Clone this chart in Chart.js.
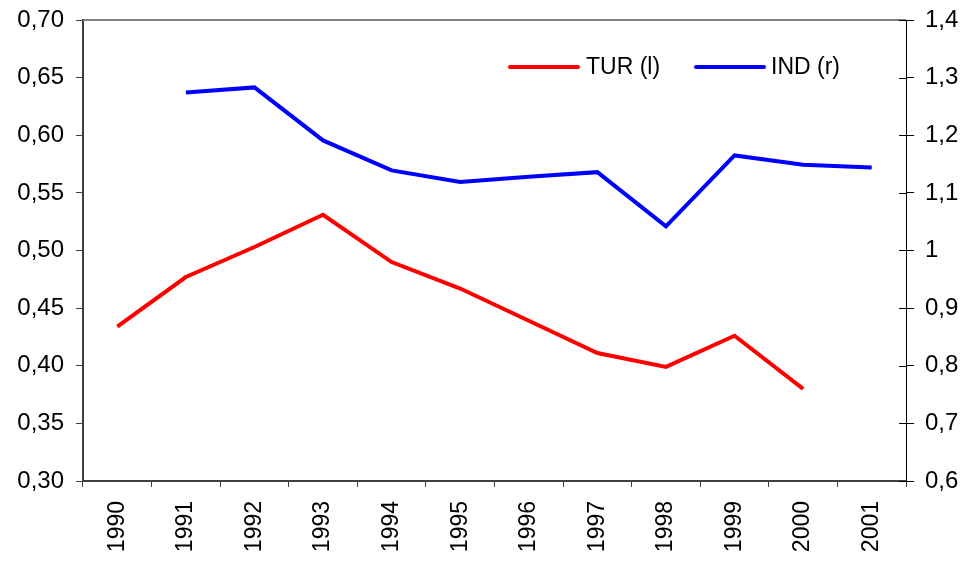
<!DOCTYPE html>
<html>
<head>
<meta charset="utf-8">
<script src="https://cdn.jsdelivr.net/npm/chart.js@4"></script>
<style>
  html, body { margin: 0; padding: 0; background: #fff; }
  #wrap { width: 969px; height: 566px; }
</style>
</head>
<body>
<div id="wrap"><canvas id="myChart" width="969" height="566"></canvas></div>
<script>
var years = ['1990', '1991', '1992', '1993', '1994', '1995', '1996', '1997', '1998', '1999', '2000', '2001'];
var turValues = [0.434, 0.477, 0.503, 0.531, 0.490, 0.467, 0.439, 0.411, 0.399, 0.426, 0.380, null];
var indValues = [null, 1.274, 1.283, 1.191, 1.139, 1.119, 1.128, 1.136, 1.042, 1.165, 1.149, 1.144];
var seriesNames = ['TUR (l)', 'IND (r)'];
var seriesColors = ['#ff0000', '#0000ff'];

var FONT = '"Liberation Sans", Arial, sans-serif';

// top border, inward half of right ticks, and legend inside the plot
var framePlugin = {
    id: 'frame',
    afterDraw: function (chart) {
        var c = chart.ctx, a = chart.chartArea;
        c.save();
        c.strokeStyle = '#808080';
        c.lineWidth = 2;
        c.beginPath();
        c.moveTo(a.left, a.top);
        c.lineTo(a.right, a.top);
        c.stroke();

        var y2 = chart.scales.y2;
        c.strokeStyle = '#000';
        c.lineWidth = 1;
        y2.ticks.forEach(function (t) {
            var py = Math.round(y2.getPixelForValue(t.value)) + 0.5;
            c.beginPath();
            c.moveTo(a.right - 7, py);
            c.lineTo(a.right, py);
            c.stroke();
        });

        // legend
        var lx = [510, 696], tx = [586, 771], ly = 67;
        c.font = '23px ' + FONT;
        c.textBaseline = 'middle';
        c.fillStyle = '#000';
        chart.data.datasets.forEach(function (ds, i) {
            c.strokeStyle = ds.borderColor;
            c.lineWidth = 4;
            c.lineCap = 'round';
            c.beginPath();
            c.moveTo(lx[i], ly);
            c.lineTo(lx[i] + 68, ly);
            c.stroke();
            c.fillText(ds.label, tx[i], ly + 1);
        });
        c.restore();
    }
};

function fmtComma(v, d) {
    var s = d ? v.toFixed(d) : String(Math.round(v * 10) / 10);
    return s.replace('.', ',');
}

function fitY(w) {
    return function (s) {
        s.width = w;
        s.paddingTop = 0;
        s.paddingBottom = 0;
    };
}

var ctx = document.getElementById('myChart').getContext('2d');
var myChart = new Chart(ctx, {
    type: 'line',
    data: {
        labels: years,
        datasets: [{
            label: seriesNames[0],
            data: turValues,
            borderColor: seriesColors[0],
            backgroundColor: seriesColors[0],
            borderWidth: 4,
            pointRadius: 0,
            tension: 0,
            yAxisID: 'y'
        }, {
            label: seriesNames[1],
            data: indValues,
            borderColor: seriesColors[1],
            backgroundColor: seriesColors[1],
            borderWidth: 4,
            pointRadius: 0,
            tension: 0,
            yAxisID: 'y2'
        }]
    },
    options: {
        responsive: false,
        animation: false,
        layout: { padding: { top: 20, left: 0, right: 0, bottom: 0 } },
        plugins: {
            legend: { display: false },
            tooltip: { enabled: false }
        },
        scales: {
            x: {
                offset: true,
                grid: { offset: true, drawOnChartArea: false, tickLength: 6, color: '#404040', lineWidth: 1 },
                border: { color: '#404040', width: 2 },
                ticks: {
                    minRotation: 90, maxRotation: 90, autoSkip: false,
                    color: '#000', padding: 14,
                    font: { family: FONT, size: 23 }
                },
                afterFit: function (s) { s.height = 85; }
            },
            y: {
                position: 'left',
                min: 0.3, max: 0.7,
                grid: { drawOnChartArea: false, tickLength: 7, color: '#404040' },
                border: { color: '#404040', width: 2 },
                ticks: {
                    stepSize: 0.05, color: '#000', padding: 12,
                    font: { family: FONT, size: 24 },
                    callback: function (v) { return fmtComma(v, 2); }
                },
                afterFit: fitY(83)
            },
            y2: {
                position: 'right',
                min: 0.6, max: 1.4,
                grid: { drawOnChartArea: false, tickLength: 8, color: '#000' },
                border: { color: '#000', width: 1 },
                ticks: {
                    stepSize: 0.1, color: '#000', padding: 11,
                    font: { family: FONT, size: 24 },
                    callback: function (v) { return fmtComma(v, 0); }
                },
                afterFit: fitY(63)
            }
        }
    },
    plugins: [framePlugin]
});
</script>
</body>
</html>
